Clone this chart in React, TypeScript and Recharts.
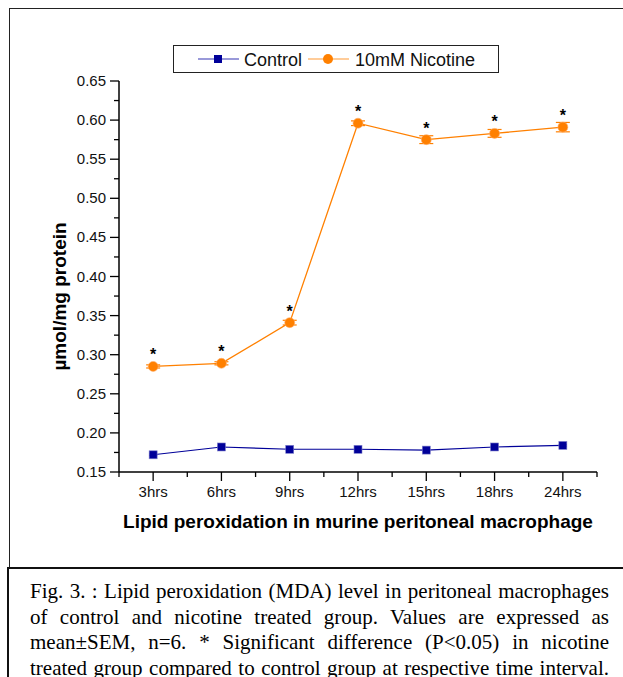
import React from "react";
import { LineChart, Line, XAxis, YAxis, ErrorBar, LabelList } from "recharts";

const hours = ["3hrs", "6hrs", "9hrs", "12hrs", "15hrs", "18hrs", "24hrs"];
const control = [0.172, 0.182, 0.179, 0.179, 0.178, 0.182, 0.184];
const controlErr = [0.001, 0.001, 0.001, 0.001, 0.001, 0.001, 0.001];
const nicotine = [0.285, 0.289, 0.341, 0.596, 0.575, 0.583, 0.591];
const nicotineErr = [0.002, 0.002, 0.003, 0.003, 0.005, 0.005, 0.006];
const yTicks = [
  0.15, 0.175, 0.2, 0.225, 0.25, 0.275, 0.3, 0.325, 0.35, 0.375, 0.4, 0.425,
  0.45, 0.475, 0.5, 0.525, 0.55, 0.575, 0.6, 0.625, 0.65,
];
const seriesNames = ["Control", "10mM Nicotine"];
const caption = [
  "Fig. 3. : Lipid peroxidation (MDA) level in peritoneal macrophages",
  "of control and nicotine treated group. Values are expressed as",
  "mean\u00b1SEM, n=6. * Significant difference (P<0.05) in nicotine",
  "treated group compared to control group at respective time interval.",
];

const data = hours.map((h, i) => ({
  hour: h,
  control: control[i],
  controlErr: controlErr[i],
  nicotine: nicotine[i],
  nicotineErr: nicotineErr[i],
}));

const W = 623;
const H = 560;
const M = { top: 81, right: 26, left: 0, bottom: 0 };
const Y_W = 119;
const X_H = 88;
const plotW = W - M.right - Y_W;
const pad = plotW / (2 * hours.length);

const BLUE = "#000099";
const ORANGE = "#ff8000";
const FONT = "'Liberation Sans', Arial, sans-serif";

function XTick(props: any) {
  const { x, y, payload } = props;
  const last = payload.value === hours[hours.length - 1];
  return (
    <g>
      <line x1={x} y1={y} x2={x} y2={y + 9} stroke="#000" strokeWidth={1.3} />
      <line x1={x - pad} y1={y} x2={x - pad} y2={y + 5} stroke="#000" strokeWidth={1.3} />
      {last && <line x1={x + pad} y1={y} x2={x + pad} y2={y + 5} stroke="#000" strokeWidth={1.3} />}
      <text x={x} y={y + 25} textAnchor="middle" fontSize={15} fill="#111" fontFamily={FONT}>
        {payload.value}
      </text>
    </g>
  );
}

function YTick(props: any) {
  const { x, y, payload } = props;
  const v = payload.value as number;
  const major = Math.round(v * 1000) % 50 === 0;
  return (
    <g>
      <line x1={x} y1={y} x2={x - (major ? 9 : 5)} y2={y} stroke="#000" strokeWidth={1.3} />
      {major && (
        <text x={x - 13} y={y + 5} textAnchor="end" fontSize={15} fill="#111" fontFamily={FONT}>
          {v.toFixed(2)}
        </text>
      )}
    </g>
  );
}

function Square(props: any) {
  const { cx, cy } = props;
  if (cx == null || cy == null) return null;
  return <rect x={cx - 4} y={cy - 4} width={8} height={8} fill={BLUE} stroke="#8080cc" strokeWidth={0.6} />;
}

function Dot(props: any) {
  const { cx, cy } = props;
  if (cx == null || cy == null) return null;
  return <circle cx={cx} cy={cy} r={5} fill={ORANGE} stroke="#ffb070" strokeWidth={0.6} />;
}

function Star(props: any) {
  const { x, y } = props;
  return (
    <text x={x} y={y - 6} textAnchor="middle" fontSize={16} fontWeight="bold" fill="#000" fontFamily={FONT}>
      *
    </text>
  );
}

function Legend() {
  return (
    <div
      style={{
        position: "absolute",
        left: 173,
        top: 45,
        width: 326,
        height: 28,
        border: "1px solid #222",
        boxSizing: "border-box",
        background: "#fff",
      }}
    >
      <svg width={326} height={28} style={{ position: "absolute", left: -1, top: -1 }}>
        <line x1={25} y1={14} x2={66} y2={14} stroke="#7777cc" strokeWidth={1.5} />
        <rect x={41} y={10} width={8} height={8} fill={BLUE} />
        <text x={71} y={20.5} fontSize={18} fill="#111" fontFamily={FONT}>
          {seriesNames[0]}
        </text>
        <line x1={135} y1={14} x2={176} y2={14} stroke="#ffbb77" strokeWidth={1.5} />
        <circle cx={155} cy={14} r={5} fill={ORANGE} />
        <text x={182} y={20.5} fontSize={18} fill="#111" fontFamily={FONT}>
          {seriesNames[1]}
        </text>
      </svg>
    </div>
  );
}

export default function App() {
  return (
    <div style={{ position: "absolute", left: 0, top: 0, width: 623, height: 677, overflow: "hidden", background: "#fff" }}>
      <div
        style={{
          position: "absolute",
          left: 9,
          top: 8,
          width: 700,
          height: 560,
          border: "1px solid #222",
          boxSizing: "border-box",
        }}
      />
      <div style={{ position: "absolute", left: 0, top: 0 }}>
        <LineChart width={W} height={H} data={data} margin={M}>
          <XAxis
            dataKey="hour"
            type="category"
            padding={{ left: pad, right: pad }}
            height={X_H}
            interval={0}
            tickSize={0}
            tickMargin={0}
            tick={<XTick />}
            axisLine={{ stroke: "#000", strokeWidth: 1.5 }}
            tickLine={false}
            label={{
              content: (p: any) => {
                const vb = p.viewBox;
                return (
                  <text
                    x={vb.x + vb.width / 2}
                    y={vb.y + 56}
                    textAnchor="middle"
                    fontSize={19}
                    fontWeight="bold"
                    fill="#000"
                    fontFamily={FONT}
                  >
                    Lipid peroxidation in murine peritoneal macrophage
                  </text>
                );
              },
            }}
          />
          <YAxis
            type="number"
            domain={[0.15, 0.65]}
            ticks={yTicks}
            interval={0}
            width={Y_W}
            tickSize={0}
            tickMargin={0}
            tick={<YTick />}
            axisLine={{ stroke: "#000", strokeWidth: 1.5 }}
            tickLine={false}
            allowDataOverflow
            label={{
              content: (p: any) => {
                const vb = p.viewBox;
                const cx = vb.x + 66;
                const cy = vb.y + vb.height / 2 + 20;
                return (
                  <text
                    x={cx}
                    y={cy}
                    transform={`rotate(-90, ${cx}, ${cy})`}
                    textAnchor="middle"
                    fontSize={19}
                    fontWeight="bold"
                    fill="#000"
                    fontFamily={FONT}
                  >
                    {"\u00b5mol/mg protein"}
                  </text>
                );
              },
            }}
          />
          <Line
            dataKey="control"
            name={seriesNames[0]}
            stroke={BLUE}
            strokeWidth={1.1}
            dot={<Square />}
            isAnimationActive={false}
          >
            <ErrorBar dataKey="controlErr" width={4} stroke={BLUE} strokeWidth={1} direction="y" />
          </Line>
          <Line
            dataKey="nicotine"
            name={seriesNames[1]}
            stroke={ORANGE}
            strokeWidth={1.3}
            dot={<Dot />}
            isAnimationActive={false}
          >
            <ErrorBar dataKey="nicotineErr" width={7} stroke={ORANGE} strokeWidth={1.2} direction="y" />
            <LabelList dataKey="nicotine" content={<Star />} />
          </Line>
        </LineChart>
      </div>
      <Legend />
      <div
        style={{
          position: "absolute",
          left: 7,
          top: 567,
          width: 700,
          height: 200,
          borderTop: "2px solid #111",
          borderLeft: "2px solid #111",
          boxSizing: "border-box",
        }}
      />
      <div
        style={{
          position: "absolute",
          left: 30,
          top: 579,
          width: 579,
          fontFamily: "'Liberation Serif', 'Times New Roman', serif",
          fontSize: 21,
          lineHeight: "25.5px",
          color: "#000",
        }}
      >
        {caption.map((line, i) => (
          <div key={i} style={{ textAlign: "justify", textAlignLast: "justify", whiteSpace: "nowrap" }}>
            {line}
          </div>
        ))}
      </div>
    </div>
  );
}
